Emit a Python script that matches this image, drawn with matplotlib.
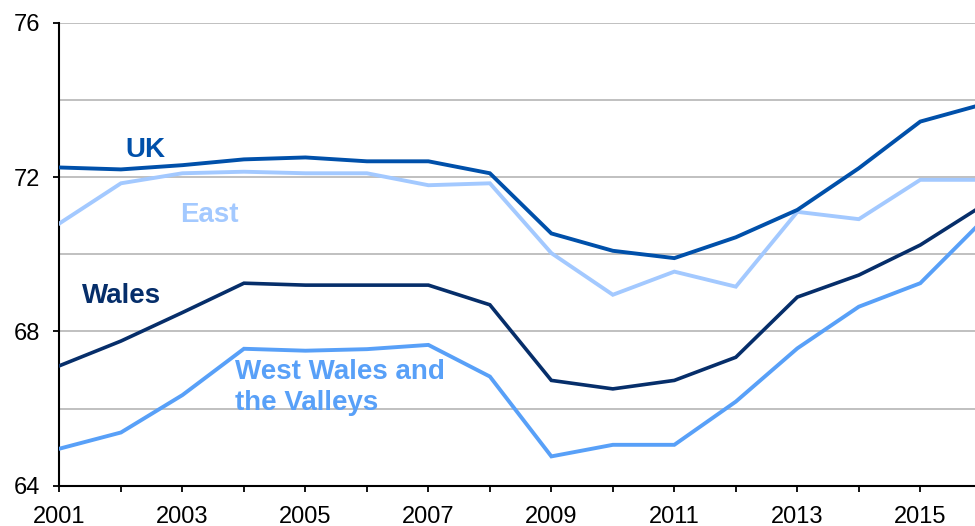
import matplotlib
matplotlib.use("Agg")
import matplotlib.pyplot as plt
from matplotlib.ticker import MultipleLocator

years = list(range(2001, 2017))
uk = [72.25, 72.20, 72.31, 72.46, 72.51, 72.41, 72.41, 72.10, 70.54, 70.09, 69.90, 70.44, 71.15, 72.23, 73.44, 73.88]
east = [70.80, 71.84, 72.10, 72.14, 72.10, 72.10, 71.79, 71.84, 70.03, 68.95, 69.55, 69.16, 71.10, 70.91, 71.93, 71.93]
wales = [67.11, 67.75, 68.49, 69.25, 69.20, 69.20, 69.20, 68.69, 66.73, 66.51, 66.73, 67.33, 68.89, 69.46, 70.24, 71.25]
wwv = [64.96, 65.38, 66.35, 67.55, 67.50, 67.54, 67.65, 66.83, 64.76, 65.06, 65.06, 66.18, 67.56, 68.64, 69.25, 70.85]

y_ticks = [64, 68, 72, 76]
x_tick_labels = [2001, 2003, 2005, 2007, 2009, 2011, 2013, 2015]

c_uk = "#0050AA"
c_east = "#A3C9FF"
c_wales = "#062E6A"
c_wwv = "#58A0F8"

plt.rcParams['font.family'] = ['Liberation Sans', 'DejaVu Sans']

fig = plt.figure(figsize=(9.75, 5.26), dpi=100)
ax = fig.add_axes([0.061, 0.0766, 0.939, 0.880])

ax.plot(years, east, color=c_east, lw=2.8, solid_joinstyle='miter', zorder=3)
ax.plot(years, wwv, color=c_wwv, lw=2.8, solid_joinstyle='miter', zorder=3)
ax.plot(years, wales, color=c_wales, lw=2.6, solid_joinstyle='miter', zorder=4)
ax.plot(years, uk, color=c_uk, lw=2.8, solid_joinstyle='miter', zorder=5)

ax.set_ylim(64, 76)
ax.set_xlim(2001, 2015.89)

ax.set_yticks(y_ticks)
ax.set_yticklabels([str(v) for v in y_ticks])
ax.yaxis.set_minor_locator(MultipleLocator(2))
ax.set_xticks(x_tick_labels)
ax.set_xticklabels([str(v) for v in x_tick_labels])
ax.xaxis.set_minor_locator(MultipleLocator(1))

ax.grid(True, axis='y', which='both', color='#BBBBBB', lw=1.3, zorder=1)
ax.tick_params(axis='y', which='major', direction='out', length=4.5, width=1.3, labelsize=17, pad=9.5)
ax.tick_params(axis='y', which='minor', length=0)
ax.tick_params(axis='x', which='both', direction='out', length=4.5, width=1.3, labelsize=17, pad=10)

for s in ['top', 'right']:
    ax.spines[s].set_visible(False)
for s in ['left', 'bottom']:
    ax.spines[s].set_linewidth(1.5)
    ax.spines[s].set_color('black')
ax.set_axisbelow(True)

fs = 20
ax.text(2002.065, 72.52, "UK", color=c_uk, fontsize=fs, fontweight='bold', va='baseline', ha='left')
ax.text(2002.96, 70.84, "East", color=c_east, fontsize=fs, fontweight='bold', va='baseline', ha='left')
ax.text(2001.36, 68.74, "Wales", color=c_wales, fontsize=fs, fontweight='bold', va='baseline', ha='left')
ax.text(2003.85, 66.77, "West Wales and", color=c_wwv, fontsize=fs, fontweight='bold', va='baseline', ha='left')
ax.text(2003.85, 65.96, "the Valleys", color=c_wwv, fontsize=fs, fontweight='bold', va='baseline', ha='left')

fig.savefig("out.png", dpi=100)
